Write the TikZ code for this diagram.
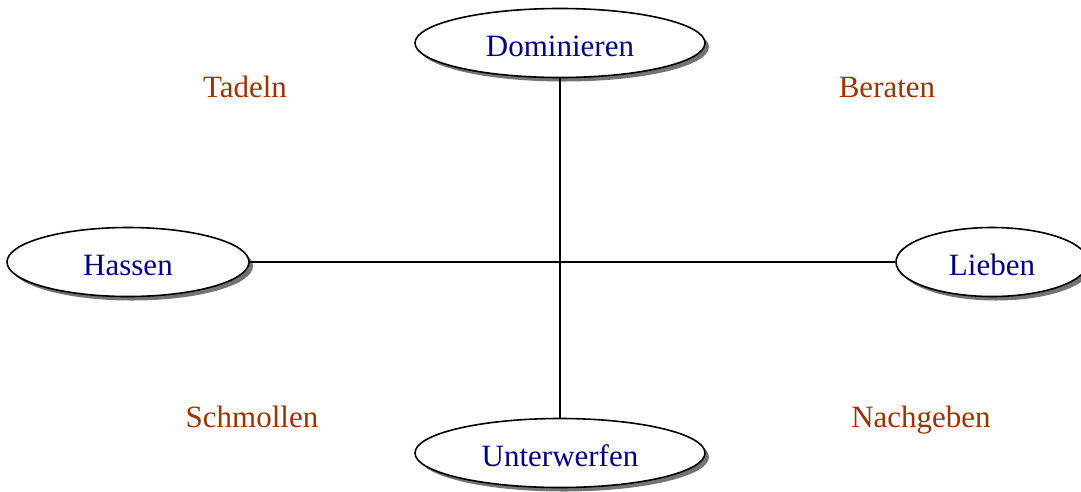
\documentclass[tikz,border=0pt]{standalone}
\usepackage{fontspec}
\setmainfont{Liberation Serif}
\usetikzlibrary{shapes.geometric,shadows}
\definecolor{nodeblue}{RGB}{0,0,128}
\definecolor{labelbrown}{RGB}{153,51,0}
\begin{document}
\begin{tikzpicture}[x=1pt,y=-1pt,
  oval/.style={ellipse, draw=black, line width=1.6pt, fill=white, inner sep=0pt,
    minimum width=290pt, minimum height=69pt, text=nodeblue,
    text height=26pt, text depth=0pt,
    font=\fontsize{31}{37}\selectfont,
    drop shadow={shadow xshift=4pt, shadow yshift=-4pt, fill=black!55, opacity=1}},
  quad/.style={text=labelbrown, font=\fontsize{31}{37}\selectfont, inner sep=0pt, anchor=base},
  axis/.style={line width=1.8pt, draw=black}]
\useasboundingbox (0,0) rectangle (1081,491);
\clip (0,0) rectangle (1081,491);
\node[oval] (dom) at (560,43) {Dominieren};
\node[oval] (unt) at (560,453) {Unterwerfen};
\node[oval, minimum width=242pt] (has) at (128,262) {Hassen};
\node[oval, minimum width=192pt] (lie) at (992,262) {Lieben};
\draw[axis] (dom) -- (unt);
\draw[axis] (has) -- (lie);
\node[quad] (tad) at (245,97) {Tadeln};
\node[quad] (ber) at (887,97) {Beraten};
\node[quad] (sch) at (252,427) {Schmollen};
\node[quad] (nac) at (921,427) {Nachgeben};
\end{tikzpicture}
\end{document}
